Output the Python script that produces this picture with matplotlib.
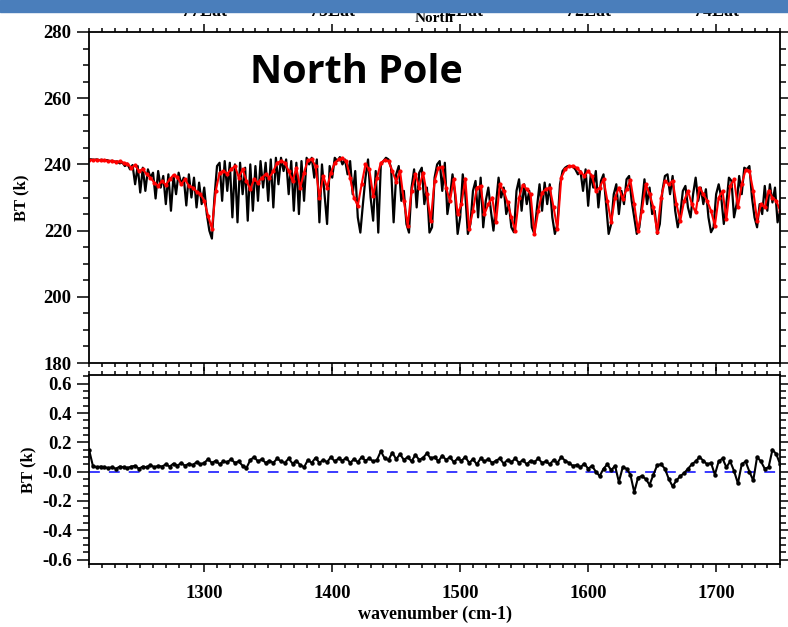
import numpy as np
import matplotlib
matplotlib.use("Agg")
import matplotlib.pyplot as plt
from matplotlib.patches import Rectangle
from matplotlib.ticker import MultipleLocator
from matplotlib.transforms import offset_copy

# observed (black), 2 cm-1 grid
obs_wn = np.arange(1210, 1751, 2)
obs_bt = [
    241.6, 241.5, 241.4, 241.5, 241.3, 241.4, 241.2, 241.3, 241.0, 241.1,
    240.8, 240.9, 240.3, 240.6, 239.5, 240.2, 238.5, 239.8, 234.0, 239.5,
    231.5, 239.0, 232.0, 238.5, 236.0, 237.5, 229.7, 238.0, 233.0, 236.5,
    228.0, 237.0, 226.0, 236.5, 231.0, 237.5, 234.0, 236.0, 227.6, 237.0,
    230.0, 236.0, 227.0, 234.5, 228.0, 233.0, 225.0, 220.0, 217.6, 230.0,
    239.5, 240.5, 229.0, 241.0, 232.0, 240.5, 224.0, 240.0, 222.5, 240.5,
    231.0, 239.0, 223.0, 240.0, 226.0, 239.5, 229.0, 241.0, 233.0, 240.5,
    229.0, 241.5, 227.0, 242.0, 234.0, 242.0, 238.0, 241.5, 231.0, 241.0,
    226.0, 240.5, 225.0, 241.0, 229.0, 242.0, 240.0, 242.0, 236.0, 241.5,
    222.5, 240.0, 231.0, 222.0, 239.5, 236.0, 242.0, 241.0, 242.2, 240.0,
    241.5, 237.0, 241.0, 231.0, 238.0, 224.0, 219.4, 228.0, 236.0, 241.5,
    230.0, 223.0, 238.0, 219.4, 240.0, 241.0, 242.0, 241.5, 239.0, 222.5,
    237.0, 239.5, 229.0, 232.0, 222.0, 219.4, 233.0, 238.5, 227.0, 237.5,
    239.0, 228.0, 233.0, 219.4, 221.0, 236.0, 240.0, 241.0, 232.0, 240.5,
    225.0, 230.0, 237.0, 231.0, 219.0, 224.0, 237.0, 231.0, 219.0, 222.0,
    232.0, 235.0, 224.0, 236.0, 221.0, 229.0, 233.0, 226.0, 220.0, 228.0,
    236.0, 230.0, 233.0, 225.0, 228.0, 221.0, 219.5, 232.0, 235.5, 226.0,
    234.0, 228.0, 232.0, 221.0, 219.0, 227.0, 234.0, 226.0, 234.5, 228.0,
    234.0, 224.0, 219.0, 222.0, 234.0, 238.0, 239.0, 239.5, 239.5, 239.3,
    238.5, 237.0, 238.0, 232.0, 238.5, 227.5, 237.0, 233.0, 238.0, 227.0,
    235.0, 237.0, 228.0, 219.0, 222.0, 231.0, 234.0, 225.0, 232.0, 228.0,
    235.5, 236.5, 229.0, 224.0, 219.0, 221.0, 228.0, 235.5, 228.0, 233.0,
    225.0, 226.0, 219.0, 222.0, 232.0, 236.5, 237.0, 231.0, 236.5, 226.0,
    221.0, 225.0, 232.0, 233.5, 227.0, 224.0, 231.0, 236.0, 229.0, 233.0,
    228.0, 232.5, 224.0, 219.5, 221.0, 231.0, 234.0, 230.0, 222.0, 228.0,
    236.0, 235.0, 224.0, 228.0, 236.5, 231.0, 239.0, 238.5, 239.5, 230.0,
    224.0, 221.0, 228.0, 225.0, 233.5, 226.0, 234.0, 228.5, 233.0, 222.5,
    226.0,
]

# simulated (red), 3 cm-1 grid
sim_wn = np.arange(1210, 1751, 3)
sim_bt = [
    241.4, 241.3, 241.4, 241.2, 241.3, 241.0, 241.1, 240.8, 240.9, 240.5,
    240.2, 239.0, 239.8, 238.0, 238.6, 237.0, 236.0, 234.5, 233.6, 235.0,
    233.8, 235.5, 236.8, 236.2, 234.0, 235.5, 233.5, 233.0, 231.8, 231.0,
    229.0, 224.5, 220.6, 232.0, 237.5, 238.0, 237.2, 238.5, 239.5, 236.0,
    238.5, 235.0, 232.5, 235.5, 234.5, 236.0, 237.0, 236.0, 238.0, 240.5,
    241.0, 240.5, 238.0, 235.0, 239.0, 233.0, 237.5, 241.3, 241.5, 239.5,
    230.0, 236.5, 233.0, 237.5, 240.5, 241.5, 241.8, 241.0, 236.0, 230.0,
    227.5, 234.0, 240.0, 238.5, 230.5, 236.0, 240.5, 241.3, 241.0, 238.0,
    234.8, 238.0, 229.0, 221.5, 232.0, 237.2, 233.0, 237.5, 231.0, 223.0,
    235.0, 239.0, 239.2, 233.0, 229.0, 235.5, 225.0, 228.0, 235.7, 220.5,
    226.0, 233.0, 233.5, 225.0, 228.0, 230.0, 222.5, 234.0, 232.0, 228.5,
    224.0, 220.0, 230.0, 233.8, 232.5, 231.0, 219.0, 226.0, 231.5, 232.5,
    233.0, 227.0, 220.5, 236.0, 238.5, 239.4, 239.6, 239.0, 237.8, 236.5,
    238.0, 236.5, 232.0, 233.0, 235.5, 229.0, 222.5, 230.0, 233.0, 229.5,
    232.5, 235.2, 228.0, 220.0, 226.0, 234.0, 231.0, 227.0, 219.5, 230.0,
    235.0, 234.0, 235.0, 228.0, 223.0, 229.0, 232.0, 228.0, 225.5, 233.0,
    231.0, 229.0, 226.0, 221.5, 230.0, 232.0, 223.5, 233.5, 235.5, 227.0,
    234.0, 238.3, 238.0, 232.0, 223.0, 228.0, 227.0, 232.1, 230.0, 229.0,
    226.0,
]

# mean difference, 3 cm-1 grid
diff_wn = np.arange(1210, 1751, 3)
diff_bt = [
    0.15, 0.04, 0.03, 0.035, 0.03, 0.025, 0.03, 0.02, 0.035, 0.03,
    0.025, 0.035, 0.04, 0.02, 0.035, 0.03, 0.045, 0.03, 0.04, 0.035,
    0.05, 0.035, 0.055, 0.04, 0.06, 0.04, 0.055, 0.045, 0.065, 0.05,
    0.06, 0.085, 0.06, 0.075, 0.05, 0.07, 0.065, 0.085, 0.06, 0.07,
    0.04, 0.025, 0.08, 0.1, 0.07, 0.085, 0.06, 0.075, 0.06, 0.09,
    0.07, 0.06, 0.09, 0.055, 0.075, 0.045, 0.03, 0.08, 0.06, 0.095,
    0.06, 0.08, 0.065, 0.1, 0.07, 0.09, 0.075, 0.095, 0.06, 0.085,
    0.065, 0.1, 0.075, 0.09, 0.07, 0.08, 0.14, 0.09, 0.08, 0.13,
    0.085, 0.12, 0.08, 0.1, 0.07, 0.115, 0.08, 0.095, 0.125, 0.09,
    0.1, 0.07, 0.11, 0.08, 0.1, 0.065, 0.09, 0.075, 0.1, 0.06,
    0.085, 0.05, 0.09, 0.07, 0.085, 0.06, 0.075, 0.09, 0.055, 0.08,
    0.065, 0.09, 0.06, 0.08, 0.05, 0.075, 0.065, 0.09, 0.06, 0.07,
    0.05, 0.08, 0.06, 0.1, 0.075, 0.06, 0.04, 0.045, 0.03, 0.055,
    0.02, 0.04, 0.0, -0.03, 0.02, 0.05, 0.01, 0.04, -0.07, 0.03,
    0.02, -0.02, -0.14, -0.04, -0.03, -0.05, -0.09, -0.02, 0.045, 0.05,
    0.02, -0.05, -0.1, -0.06, -0.03, -0.01, 0.02, 0.05, 0.07, 0.1,
    0.075, 0.05, 0.06, -0.02, 0.07, 0.09, 0.03, 0.07, 0.005, -0.08,
    0.05, 0.07, 0.0, -0.06, 0.1, 0.07, 0.02, 0.03, 0.15, 0.12,
    0.05,
]

top_ticks = [1300, 1400, 1500, 1600, 1700]
top_labels = ["77Lat", "75Lat", "72Lat", "72Lat", "74Lat"]

plt.rcParams["font.family"] = "Liberation Serif"
plt.rcParams["font.weight"] = "bold"

fig = plt.figure(figsize=(7.88, 6.27), dpi=100)
ax1 = fig.add_axes([0.113, 0.421, 0.877, 0.528])
ax2 = fig.add_axes([0.113, 0.1005, 0.877, 0.3015])

ax1.plot(obs_wn, obs_bt, color="black", lw=1.6)
ax1.plot(sim_wn, sim_bt, color="red", lw=1.5, marker="o", ms=2)
ax1.set_ylim(180, 280)
ax1.yaxis.set_major_locator(MultipleLocator(20))
ax1.yaxis.set_minor_locator(MultipleLocator(5))
ax1.set_ylabel("BT (k)", fontsize=12, fontweight="bold", labelpad=10)
ax1.tick_params(labelbottom=False)
ax1.text(0.233, 0.879, "North Pole", transform=ax1.transAxes, fontsize=28.5,
         fontweight="bold", family="Open Sans", va="center", ha="left")

ax2.axhline(0, color="#2b2bff", lw=1.3, ls=(0, (6, 5)))
ax2.plot(diff_wn, diff_bt, color="black", lw=1.5, marker="o", ms=2.2)
ax2.set_ylim(-0.63, 0.66)
ax2.yaxis.set_minor_locator(MultipleLocator(0.05))
ax2.set_yticks([0.6, 0.4, 0.2, 0.0, -0.2, -0.4, -0.6])
ax2.set_yticklabels(["0.6", "0.4", "0.2", "-0.0", "-0.2", "-0.4", "-0.6"])
ax2.set_ylabel("BT (k)", fontsize=12, fontweight="bold", labelpad=4)
ax2.set_xlabel("wavenumber (cm-1)", fontsize=13, fontweight="bold", labelpad=3)

for ax in (ax1, ax2):
    ax.set_xlim(1210, 1750)
    ax.xaxis.set_major_locator(MultipleLocator(100))
    ax.xaxis.set_minor_locator(MultipleLocator(10))
    ax.tick_params(axis="both", which="both", direction="out", top=True,
                   right=True, width=1.1, labelsize=13.5)
    ax.tick_params(axis="y", which="major", length=9)
    ax.tick_params(axis="y", which="minor", length=4.5)
    ax.tick_params(axis="x", which="major", length=6)
    ax.tick_params(axis="x", which="minor", length=3)
    for s in ax.spines.values():
        s.set_linewidth(1.3)
    for lab in ax.get_xticklabels() + ax.get_yticklabels():
        lab.set_fontweight("bold")
ax2.tick_params(axis="x", pad=9)

# top tick labels, mostly hidden under the header bar
lab_tr = offset_copy(ax1.get_xaxis_transform(), fig=fig, y=12, units="dots")
for t, lab in zip(top_ticks, top_labels):
    ax1.text(t, 1.0, lab, transform=lab_tr, ha="center", va="bottom",
             fontsize=13, fontweight="bold", clip_on=False)
ax1.text(0.5, 1.0, "North", transform=offset_copy(ax1.transAxes, fig=fig, y=7, units="dots"),
         ha="center", va="bottom", fontsize=11, fontweight="bold")
fig.add_artist(Rectangle((0, 1 - 12 / 627), 1, 12 / 627, transform=fig.transFigure,
                         color="#4a7ebb", zorder=10))

fig.savefig("out.png", dpi=100)
